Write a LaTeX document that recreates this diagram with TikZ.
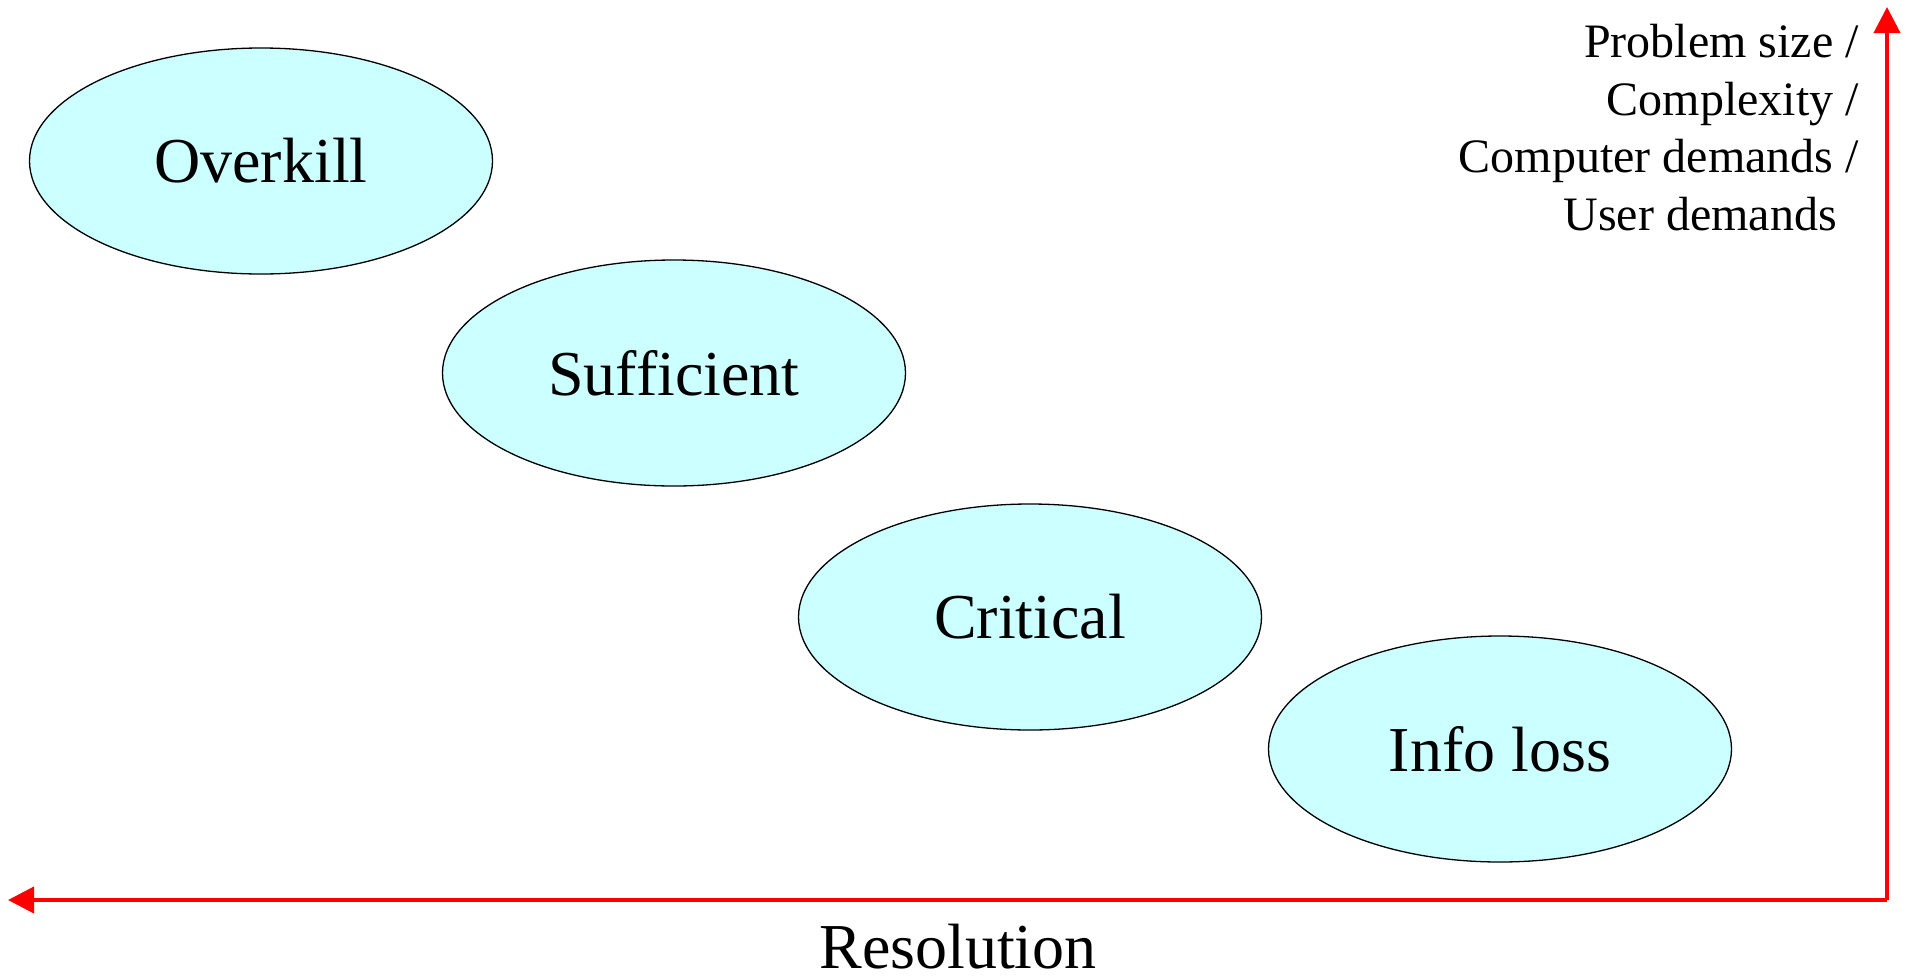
\documentclass[tikz,border=0pt]{standalone}
\usepackage{fontspec}
\setmainfont{Liberation Serif}
\usetikzlibrary{shapes.geometric,arrows.meta}
\definecolor{ellfill}{HTML}{CCFFFF}
\tikzset{
  zone/.style={ellipse, draw=black, line width=1.3pt, fill=ellfill, minimum width=463pt, minimum height=226pt, inner sep=0pt, font=\fontsize{64}{70}\selectfont},
  axis/.style={draw=red, line width=4pt, -{Triangle[length=26pt,width=26pt]}},
  ylab/.style={anchor=base east, inner sep=0pt, font=\fontsize{48}{54}\selectfont},
}
\begin{document}
\begin{tikzpicture}[x=1pt,y=-1pt]
\useasboundingbox (0,0) rectangle (1907,975);
\node[zone] (overkill) at (261,161) {Overkill};
\node[zone] (sufficient) at (674,373) {Sufficient};
\node[zone] (critical) at (1030,617) {Critical};
\node[zone] (infoloss) at (1500,749) {Info loss};
\coordinate (origin) at (1887,900);
\coordinate (ytop) at (1887,7);
\coordinate (xleft) at (8,900);
\draw[axis] (origin) -- (ytop);
\draw[axis] (origin) -- (xleft);
\node[anchor=base, inner sep=0pt, text depth=0pt, font=\fontsize{64}{70}\selectfont] (reslabel) at (958,968) {Resolution};
\node[ylab] (l1) at (1859,57) {Problem size /};
\node[ylab] (l2) at (1859,115) {Complexity /};
\node[ylab] (l3) at (1859,172) {Computer demands /};
\node[ylab] (l4) at (1837,230) {User demands};
\end{tikzpicture}
\end{document}
